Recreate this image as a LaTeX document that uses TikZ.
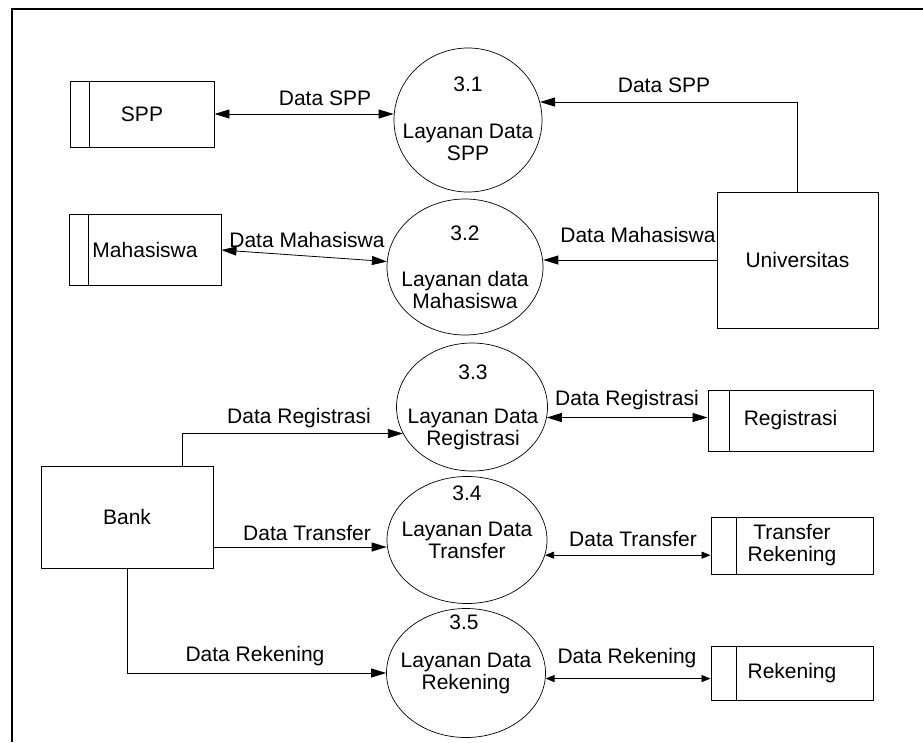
\documentclass[tikz,border=0pt]{standalone}
\usepackage{fontspec}
\setmainfont{Liberation Sans}
\usetikzlibrary{shapes.geometric,arrows.meta,calc}

\begin{document}
\begin{tikzpicture}[x=1pt,y=-1pt,
  every node/.style={font=\fontsize{21}{22}\selectfont, inner sep=0pt, align=center},
  proc/.style={draw, ellipse, line width=0.7pt},
  store/.style={draw, rectangle, line width=0.9pt},
  entity/.style={draw, rectangle, line width=0.9pt},
  bigtip/.tip={Triangle[length=15pt,width=9pt]},
  smalltip/.tip={Triangle[length=9pt,width=7pt]},
  flow/.style={line width=0.8pt, -bigtip},
  bflow/.style={line width=0.8pt, bigtip-bigtip},
  sflow/.style={line width=0.8pt, smalltip-smalltip},
]
\useasboundingbox (0,0) rectangle (923,742);

% outer frame
\draw[line width=2pt] (12,742) -- (12,9) -- (923,9);

% processes
\node[proc, minimum width=148pt, minimum height=144pt] (p31) at (468,120) {};
\node[proc, minimum width=156pt, minimum height=136pt] (p32) at (465,267) {};
\node[proc, minimum width=151pt, minimum height=128pt] (p33) at (472,407) {};
\node[proc, minimum width=160pt, minimum height=127pt] (p34) at (467,540) {};
\node[proc, minimum width=159pt, minimum height=129pt] (p35) at (466,673) {};

\node (n31) at (468,84) {3.1};
\node (t31) at (468,142) {Layanan Data\\SPP};
\node (n32) at (465,233) {3.2};
\node (t32) at (465,290) {Layanan data\\Mahasiswa};
\node (n33) at (473,372) {3.3};
\node (t33) at (473,429) {Layanan Data\\Registrasi};
\node (n34) at (467,493) {3.4};
\node (t34) at (467,540) {Layanan Data\\Transfer};
\node (n35) at (464,622) {3.5};
\node (t35) at (466,673) {Layanan Data\\Rekening};

% data stores
\node[store, minimum width=144pt, minimum height=66pt] (spp) at (142,114) {SPP};
\node[store, minimum width=152pt, minimum height=71pt] (mhs) at (145,250) {Mahasiswa};
\node[store, minimum width=165pt, minimum height=61pt] (reg) at (790.5,420.5) {Registrasi};
\node[store, minimum width=162pt, minimum height=57pt] (trf) at (792,545.5) {Transfer\\Rekening};
\node[store, minimum width=162pt, minimum height=54pt] (rek) at (792,673) {Rekening};

\foreach \s/\d in {spp/20, mhs/20, reg/22, trf/26, rek/26}
  \draw[line width=0.9pt] ([xshift=\d pt]\s.north west) -- ([xshift=\d pt]\s.south west);

% external entities
\node[entity, minimum width=161pt, minimum height=136pt] (univ) at (797.5,260) {Universitas};
\node[entity, minimum width=172pt, minimum height=102pt] (bank) at (127,517) {Bank};

% flows
\draw[bflow] (spp.east) -- (spp.east -| p31.west);
\draw[bflow] (mhs.east) -- (p32);
\draw[flow] (univ.north) |- (p31.14);
\draw[flow] (univ.west) -- (univ.west -| p32.east);

\coordinate (bregtop) at ([xshift=55pt]bank.north);
\coordinate (btrf) at ([yshift=-30pt]bank.east);
\draw[flow] (bregtop) |- (p33.201);
\draw[flow] (btrf) -- (btrf -| p34.west);
\draw[flow] (bank.south) |- (p35.west);

\draw[bflow] (p33.-8) -- (p33.-8 -| reg.west);
\draw[sflow] (p34.-11) -- (p34.-11 -| trf.west);
\draw[sflow] (p35.-4) -- (p35.-4 -| rek.west);

% flow labels
\node (l1) at (325,98) {Data SPP};
\node (l2) at (307,240) {Data Mahasiswa};
\node (l3) at (664,85) {Data SPP};
\node (l4) at (638,235) {Data Mahasiswa};
\node (l5) at (299,418) {Data Registrasi};
\node (l6) at (307,533) {Data Transfer};
\node (l7) at (255,656) {Data Rekening};
\node (l8) at (627,400) {Data Registrasi};
\node (l9) at (633,539) {Data Transfer};
\node (l10) at (627,658) {Data Rekening};
\end{tikzpicture}
\end{document}
